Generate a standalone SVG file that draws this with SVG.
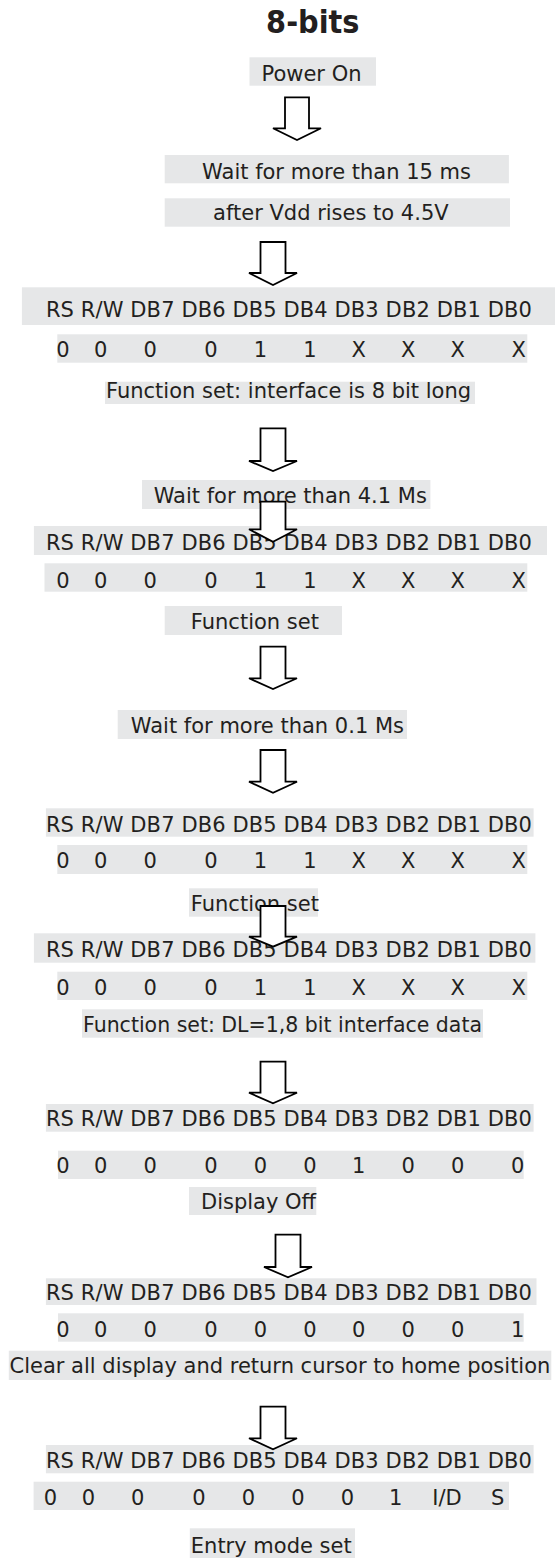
<svg xmlns="http://www.w3.org/2000/svg" width="555" height="1558" viewBox="0 0 555 1558">
<style>
.bg{fill:#ffffff}
.box{fill:#e6e7e8}
.t{font-family:"DejaVu Sans","Verdana",sans-serif;font-size:21px;fill:#231f20}
.v{text-anchor:middle}
.title{font-family:"DejaVu Sans Condensed","DejaVu Sans",sans-serif;font-stretch:condensed;font-weight:bold;font-size:32px;fill:#231f20;text-anchor:middle}
.arrow{fill:#ffffff;stroke:#000000;stroke-width:1.8;stroke-linejoin:miter}
</style>
<rect class="bg" x="0" y="0" width="555" height="1558"/>
<g id="title"><text class="title" x="312.8" y="33.3">8-bits</text></g>
<g id="power-on"><rect class="box" x="249.5" y="57.3" width="126.5" height="28.4"/><text class="t" x="261.5" y="80.7">Power On</text></g>
<g id="wait15"><rect class="box" x="164.7" y="155" width="344.2" height="28.3"/><text class="t" x="202.1" y="179.3">Wait for more than 15 ms</text></g>
<g id="vdd"><rect class="box" x="164.7" y="198.3" width="345.3" height="28.4"/><text class="t" x="213.1" y="220.3">after Vdd rises to 4.5V</text></g>
<g id="hdr1"><rect class="box" x="21.9" y="287.3" width="533.1" height="37.7"/><text class="t" x="45.9" y="317.3" textLength="486">RS R/W DB7 DB6 DB5 DB4 DB3 DB2 DB1 DB0</text></g>
<g id="val1"><rect class="box" x="57.3" y="334.3" width="470" height="28.4"/><text class="t v" y="357.3"><tspan x="62.9">0</tspan><tspan x="100.7">0</tspan><tspan x="150.2">0</tspan><tspan x="211">0</tspan><tspan x="260.5">1</tspan><tspan x="310">1</tspan><tspan x="358.7">X</tspan><tspan x="408.2">X</tspan><tspan x="457.7">X</tspan><tspan x="518.8">X</tspan></text></g>
<g id="fs1"><rect class="box" x="105" y="381.7" width="370" height="22.3"/><text class="t" x="106" y="398">Function set: interface is 8 bit long</text></g>
<g id="wait41"><rect class="box" x="142" y="480" width="288.4" height="29"/><text class="t" x="153.7" y="503.3">Wait for more than 4.1 Ms</text></g>
<g id="hdr2"><rect class="box" x="33.9" y="526" width="513.1" height="29"/><text class="t" x="45.9" y="550" textLength="486">RS R/W DB7 DB6 DB5 DB4 DB3 DB2 DB1 DB0</text></g>
<g id="val2"><rect class="box" x="44.5" y="563.3" width="482.8" height="28.4"/><text class="t v" y="588"><tspan x="62.9">0</tspan><tspan x="100.7">0</tspan><tspan x="150.2">0</tspan><tspan x="211">0</tspan><tspan x="260.5">1</tspan><tspan x="310">1</tspan><tspan x="358.7">X</tspan><tspan x="408.2">X</tspan><tspan x="457.7">X</tspan><tspan x="518.8">X</tspan></text></g>
<g id="fs2"><rect class="box" x="164.7" y="606" width="177.3" height="29"/><text class="t" x="190.8" y="629.3">Function set</text></g>
<g id="wait01"><rect class="box" x="117.7" y="710" width="289.3" height="29"/><text class="t" x="130.8" y="733.3">Wait for more than 0.1 Ms</text></g>
<g id="hdr3"><rect class="box" x="45.9" y="808.3" width="487.7" height="28.4"/><text class="t" x="45.9" y="831.7" textLength="486">RS R/W DB7 DB6 DB5 DB4 DB3 DB2 DB1 DB0</text></g>
<g id="val3"><rect class="box" x="57.3" y="845" width="470" height="29"/><text class="t v" y="868.3"><tspan x="62.9">0</tspan><tspan x="100.7">0</tspan><tspan x="150.2">0</tspan><tspan x="211">0</tspan><tspan x="260.5">1</tspan><tspan x="310">1</tspan><tspan x="358.7">X</tspan><tspan x="408.2">X</tspan><tspan x="457.7">X</tspan><tspan x="518.8">X</tspan></text></g>
<g id="fs3"><rect class="box" x="189" y="888.3" width="129" height="28.4"/><text class="t" x="190.8" y="910.7">Function set</text></g>
<g id="hdr4"><rect class="box" x="33.9" y="933.3" width="501.5" height="29.4"/><text class="t" x="45.9" y="956.7" textLength="486">RS R/W DB7 DB6 DB5 DB4 DB3 DB2 DB1 DB0</text></g>
<g id="val4"><rect class="box" x="57.3" y="971.7" width="470" height="28.3"/><text class="t v" y="995"><tspan x="62.9">0</tspan><tspan x="100.7">0</tspan><tspan x="150.2">0</tspan><tspan x="211">0</tspan><tspan x="260.5">1</tspan><tspan x="310">1</tspan><tspan x="358.7">X</tspan><tspan x="408.2">X</tspan><tspan x="457.7">X</tspan><tspan x="518.8">X</tspan></text></g>
<g id="fs4"><rect class="box" x="82" y="1009.3" width="401" height="28.4"/><text class="t" x="83" y="1031.7" textLength="399" lengthAdjust="spacingAndGlyphs">Function set: DL=1,8 bit interface data</text></g>
<g id="hdr5"><rect class="box" x="45.9" y="1104" width="487.7" height="27.7"/><text class="t" x="45.9" y="1126" textLength="486">RS R/W DB7 DB6 DB5 DB4 DB3 DB2 DB1 DB0</text></g>
<g id="val5"><rect class="box" x="58" y="1150.7" width="465.7" height="28.3"/><text class="t v" y="1173.3"><tspan x="62.9">0</tspan><tspan x="100.7">0</tspan><tspan x="150.2">0</tspan><tspan x="211">0</tspan><tspan x="260.5">0</tspan><tspan x="310">0</tspan><tspan x="358.7">1</tspan><tspan x="408.2">0</tspan><tspan x="457.7">0</tspan><tspan x="517.7">0</tspan></text></g>
<g id="dispoff"><rect class="box" x="189" y="1187" width="127.3" height="28"/><text class="t" x="201" y="1209">Display Off</text></g>
<g id="hdr6"><rect class="box" x="45.9" y="1278.3" width="490.6" height="26.7"/><text class="t" x="45.9" y="1300" textLength="486">RS R/W DB7 DB6 DB5 DB4 DB3 DB2 DB1 DB0</text></g>
<g id="val6"><rect class="box" x="58" y="1313.3" width="465.7" height="28.4"/><text class="t v" y="1336.7"><tspan x="62.9">0</tspan><tspan x="100.7">0</tspan><tspan x="150.2">0</tspan><tspan x="211">0</tspan><tspan x="260.5">0</tspan><tspan x="310">0</tspan><tspan x="358.7">0</tspan><tspan x="408.2">0</tspan><tspan x="457.7">0</tspan><tspan x="517.7">1</tspan></text></g>
<g id="clear"><rect class="box" x="8.8" y="1350.7" width="542.5" height="29.3"/><text class="t" x="9.5" y="1373.3">Clear all display and return cursor to home position</text></g>
<g id="hdr7"><rect class="box" x="45.9" y="1445" width="487.7" height="28.3"/><text class="t" x="45.9" y="1468.3" textLength="486">RS R/W DB7 DB6 DB5 DB4 DB3 DB2 DB1 DB0</text></g>
<g id="val7"><rect class="box" x="33.6" y="1481.7" width="475.4" height="28.3"/><text class="t v" y="1505"><tspan x="50.5">0</tspan><tspan x="88.4">0</tspan><tspan x="137.8">0</tspan><tspan x="199">0</tspan><tspan x="248.4">0</tspan><tspan x="298">0</tspan><tspan x="347.4">0</tspan><tspan x="395.8">1</tspan><tspan x="447">I/D</tspan><tspan x="497.6">S</tspan></text></g>
<g id="entry"><rect class="box" x="189.8" y="1528.3" width="165.2" height="29.7"/><text class="t" x="190.8" y="1553">Entry mode set</text></g>
<g id="connectors">
<polygon class="arrow" points="285,97.3 309,97.3 309,128.3 321,128.3 297,140 273,128.3 285,128.3"/>
<polygon class="arrow" points="260.5,242 285.5,242 285.5,273 297,273 273,285 249,273 260.5,273"/>
<polygon class="arrow" points="260.5,428.3 285.5,428.3 285.5,461 297,461 273,471 249,461 260.5,461"/>
<polygon class="arrow" points="260.5,501.7 285.5,501.7 285.5,529.3 297,529.3 273,541.7 249,529.3 260.5,529.3"/>
<polygon class="arrow" points="260.5,646.7 285.5,646.7 285.5,678.3 297,678.3 273,689 249,678.3 260.5,678.3"/>
<polygon class="arrow" points="260.5,750 285.5,750 285.5,781.7 297,781.7 273,792.7 249,781.7 260.5,781.7"/>
<polygon class="arrow" points="260.5,906 285.5,906 285.5,936.7 297,936.7 273,946.7 249,936.7 260.5,936.7"/>
<polygon class="arrow" points="260.5,1061.7 285.5,1061.7 285.5,1092.7 297,1092.7 273,1103.3 249,1092.7 260.5,1092.7"/>
<polygon class="arrow" points="275.5,1234.7 300.5,1234.7 300.5,1267 312,1267 288,1277.3 264,1267 275.5,1267"/>
<polygon class="arrow" points="260.5,1406.7 285.5,1406.7 285.5,1438.3 297,1438.3 273,1449.3 249,1438.3 260.5,1438.3"/>
</g>
</svg>
